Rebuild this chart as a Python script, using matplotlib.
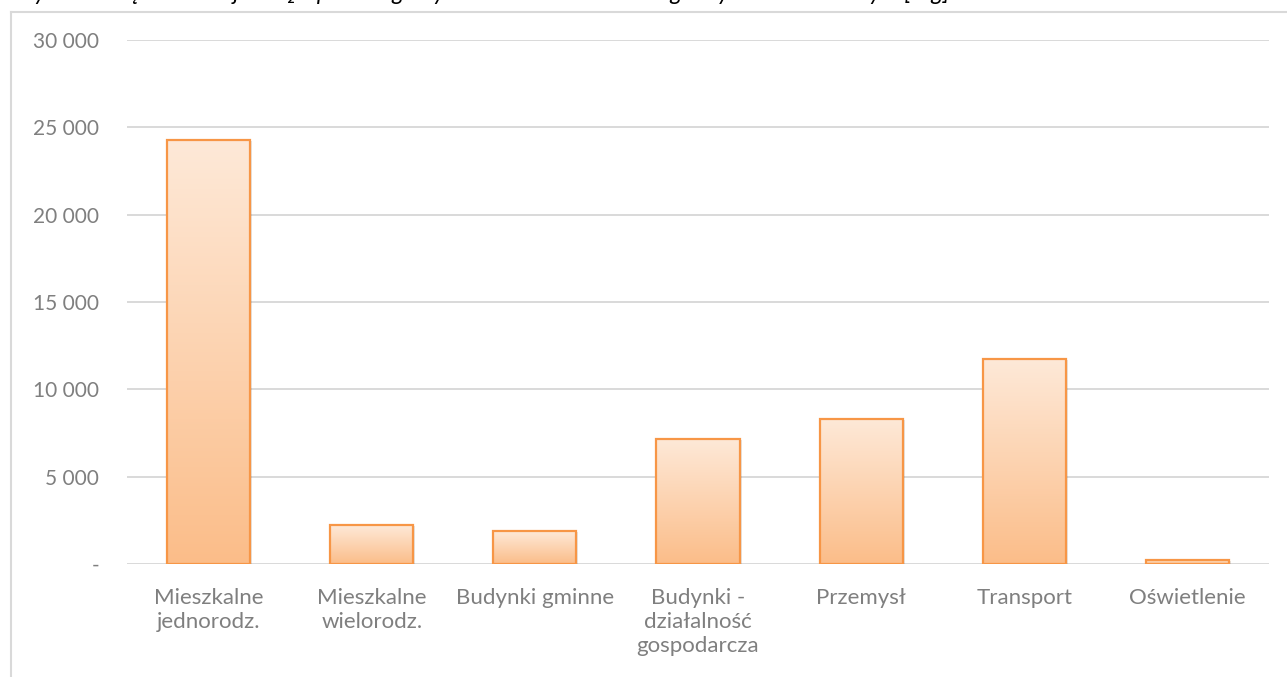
import numpy as np
import matplotlib
matplotlib.use("Agg")
import matplotlib.pyplot as plt
from matplotlib.lines import Line2D
from matplotlib.patches import Rectangle
from matplotlib.colors import LinearSegmentedColormap

plt.rcParams['font.family'] = ['Lato', 'DejaVu Sans']

# Emisja CO2 w podziale na sektory [Mg]
categories = [
    "Mieszkalne\njednorodz.",
    "Mieszkalne\nwielorodz.",
    "Budynki gminne",
    "Budynki -\ndziałalność\ngospodarcza",
    "Przemysł",
    "Transport",
    "Oświetlenie",
]
emissions = [24250, 2210, 1870, 7170, 8320, 11730, 230]
y_ticks = [0, 5000, 10000, 15000, 20000, 25000, 30000]
title = "Wykres 7. Łączna emisja CO₂ z poszczególnych sektorów na terenie gminy w roku bazowym [Mg]"

W, H = 1287, 677
fig = plt.figure(figsize=(W / 100, H / 100), dpi=100)
fig.patch.set_facecolor("white")

left, right, top, bottom = 127, 1269, 40, 564
ax = fig.add_axes([left / W, 1 - bottom / H, (right - left) / W, (bottom - top) / H])
ax.set_xlim(-0.5, len(categories) - 0.5)
ax.set_ylim(0, 30000)

grid_color = "#d9d9d9"
text_color = "#7f7f7f"
edge_color = "#f79646"

for s in ax.spines.values():
    s.set_visible(False)
ax.set_yticks(y_ticks)
ax.yaxis.grid(True, color=grid_color, lw=1.4, zorder=0)
ax.set_axisbelow(True)
ax.tick_params(length=0)


def fmt(v):
    if v == 0:
        return "-"
    return f"{v:,}".replace(",", " ")


ax.set_yticklabels([fmt(v) for v in y_ticks], fontsize=15, color=text_color)
ax.tick_params(axis="y", pad=20)

x = np.arange(len(categories))
ax.set_xticks(x)
ax.set_xticklabels(categories, fontsize=16, color=text_color, linespacing=1.25,
                   va="top")
ax.tick_params(axis="x", pad=17)

# vertical gradient from light peach (top) to deeper apricot (bottom)
cmap = LinearSegmentedColormap.from_list("peach", ["#fbbd89", "#fee9d8"])
grad = np.linspace(0, 1, 256).reshape(-1, 1)

bar_w = 0.51
bars = ax.bar(x, emissions, width=bar_w, color="none", edgecolor="none", zorder=2)
for rect, val in zip(bars, emissions):
    bx, bw = rect.get_x(), rect.get_width()
    # soft drop shadow
    sh = Rectangle((bx + 0.012, -60), bw, val, facecolor="#000000", alpha=0.10,
                   edgecolor="none", zorder=1.5)
    ax.add_patch(sh)
    im = ax.imshow(grad, extent=(bx, bx + bw, 0, val), origin="lower",
                   cmap=cmap, aspect="auto", zorder=2, interpolation="bilinear")
    clip = Rectangle((bx, 0), bw, val, transform=ax.transData, facecolor="none",
                     edgecolor="none")
    ax.add_patch(clip)
    im.set_clip_path(clip)
    outline = Rectangle((bx, 0), bw, val, facecolor="none", edgecolor=edge_color,
                        lw=1.6, zorder=3)
    ax.add_patch(outline)

ax.set_xlim(-0.5, len(categories) - 0.5)
ax.set_ylim(0, 30000)

# chart frame (left and top edges)
fx, fy = 10.5 / W, 1 - 11.5 / H
fig.add_artist(Line2D([fx, fx], [0, fy], transform=fig.transFigure,
                      color=grid_color, lw=1.5))
fig.add_artist(Line2D([fx, 1], [fy, fy], transform=fig.transFigure,
                      color=grid_color, lw=1.5))

# caption sitting just above the top edge of the page
fig.text(12 / W, 1 + 0.5 / H, title, fontsize=16.8, style="italic", color="black",
         ha="left", va="baseline")

fig.savefig("out.png", dpi=100)
